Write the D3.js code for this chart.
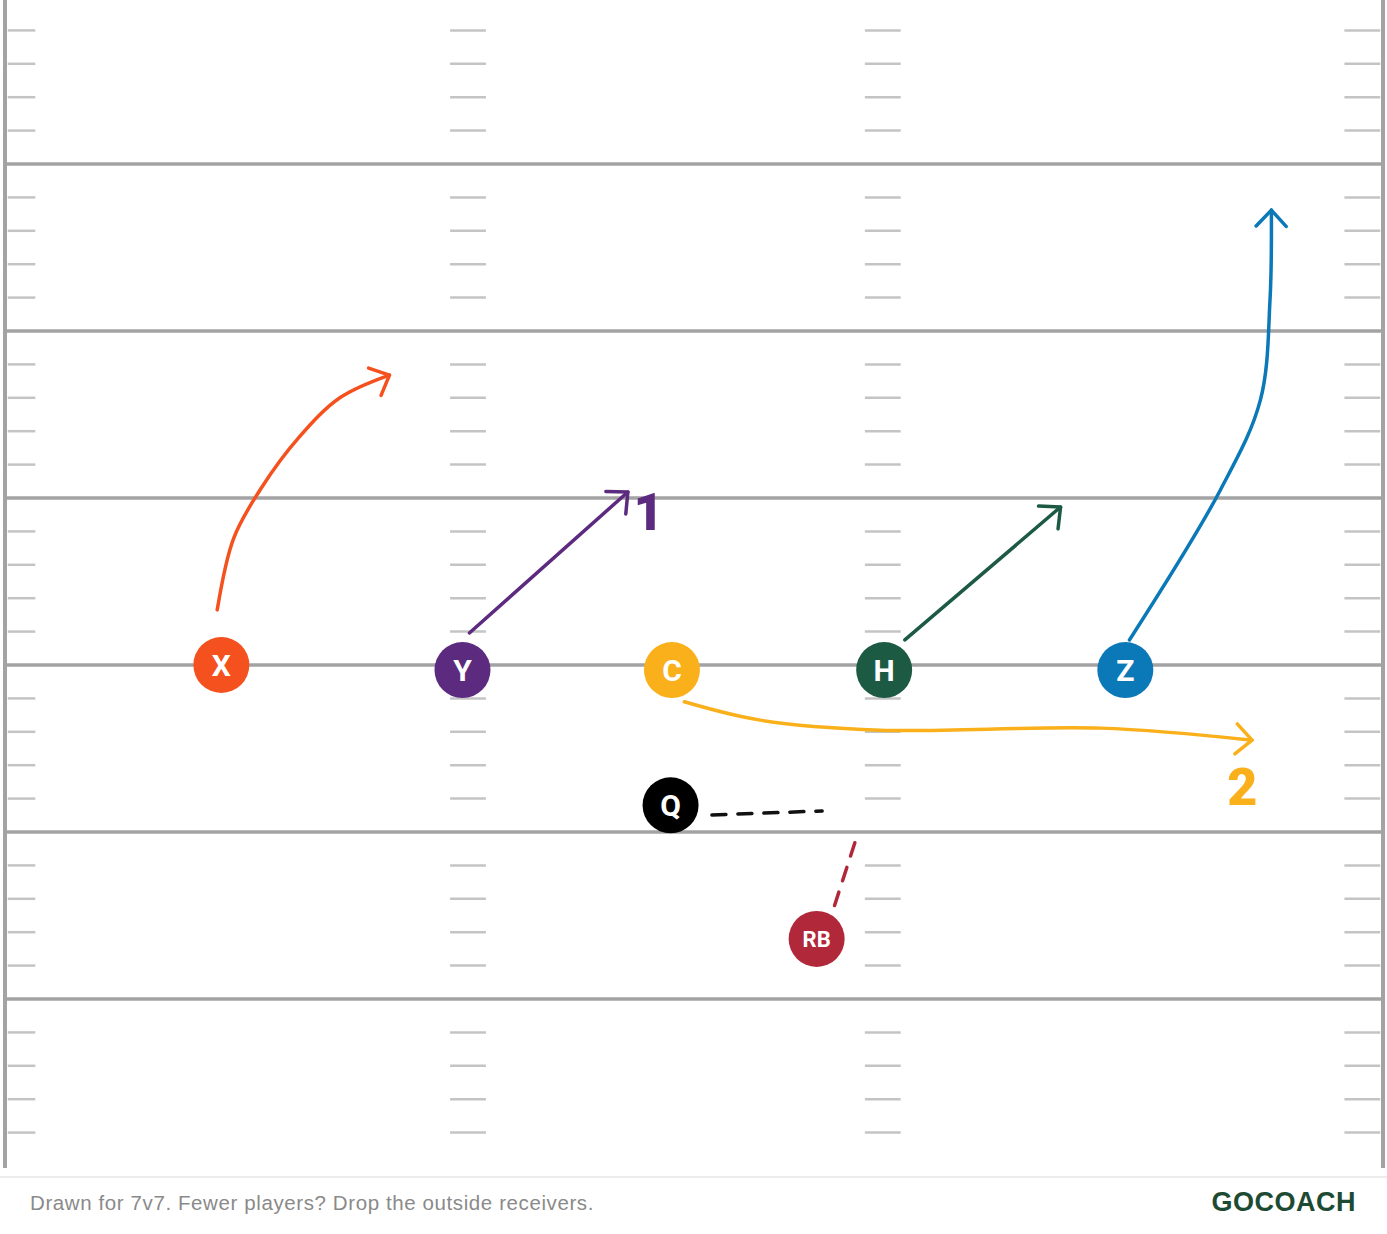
<!DOCTYPE html>
<html><head><meta charset="utf-8">
<script src="https://cdn.jsdelivr.net/npm/d3@7"></script>
<style>body{margin:0;background:#fff}svg{display:block}</style>
</head><body><svg id="c" width="1387" height="1234"></svg>
<script>
// x in % of field width, y in yards from top
const yardLines = [5,10,15,20,25,30];
const hashCols = [[0.2,2.2],[32.3,34.9],[62.4,65.0],[97.2,99.8]];
const players = [
  {id:"X", x:15.7, y:20.0, color:"#f4511e"},
  {id:"Y", x:33.2, y:20.15, color:"#5c2a7e"},
  {id:"C", x:48.4, y:20.15, color:"#f9b01b"},
  {id:"H", x:63.8, y:20.15, color:"#1c5a43"},
  {id:"Z", x:81.3, y:20.15, color:"#0b78b7"},
  {id:"Q", x:48.3, y:24.2, color:"#000000"},
  {id:"RB", x:58.9, y:28.2, color:"#b0283a"}
];
const routes = [
  {color:"#f4511e", curve:true, arrow:true, pts:[[15.4,18.35],[16.6,16.2],[18.6,14.7],[21.3,13.2],[24.3,12.0],[27.9,11.32]]},
  {color:"#5c2a7e", curve:false, arrow:true, pts:[[33.7,19.04],[45.2,14.82]]},
  {color:"#1c5a43", curve:false, arrow:true, pts:[[65.3,19.25],[76.6,15.27]]},
  {color:"#0b78b7", curve:true, arrow:true, pts:[[81.6,19.25],[88.2,14.76],[91.1,12.07],[91.8,9.07],[91.9,6.38]]},
  {color:"#f9b01b", curve:true, arrow:true, pts:[[49.3,21.1],[54.8,21.65],[63.5,21.95],[79.5,21.89],[90.5,22.25]]},
  {color:"#111111", curve:false, arrow:false, dash:true, pts:[[51.3,24.49],[59.3,24.37]]},
  {color:"#b0283a", curve:false, arrow:false, dash:true, pts:[[60.2,27.2],[61.9,25.03]]}
];
const labels = [
  {t:"1", x:46.7, y:15.95, color:"#5c2a7e"},
  {t:"2", x:89.8, y:24.2, color:"#f9b01b"}
];

const svg = d3.select("#c");
const x = d3.scaleLinear().domain([0,100]).range([5,1383]);
const y = d3.scaleLinear().domain([0,35]).range([-3,1166]);

const g = svg.append("g");
const ticks = d3.range(1,35).filter(d=>d%5!==0);
hashCols.forEach(c=>{
  g.selectAll(null).data(ticks).join("line")
    .attr("x1",x(c[0])).attr("x2",x(c[1]))
    .attr("y1",d=>y(d)).attr("y2",d=>y(d))
    .attr("stroke","#c4c4c4").attr("stroke-width",2.5);
});
g.selectAll(null).data(yardLines).join("line")
  .attr("x1",x(0)).attr("x2",x(100)).attr("y1",d=>y(d)).attr("y2",d=>y(d))
  .attr("stroke","#a3a3a3").attr("stroke-width",3.5);
[0,100].forEach(v=>g.append("line").attr("x1",x(v)).attr("x2",x(v)).attr("y1",0).attr("y2",y(35.06))
  .attr("stroke","#a3a3a3").attr("stroke-width",4));
svg.append("line").attr("x1",0).attr("x2",1387).attr("y1",1177).attr("y2",1177).attr("stroke","#e6e6e6").attr("stroke-width",1.5);

routes.forEach((r,i)=>{
  const line = d3.line().x(d=>x(d[0])).y(d=>y(d[1])).curve(r.curve?d3.curveCatmullRom:d3.curveLinear);
  const p = svg.append("path").attr("d",line(r.pts)).attr("fill","none")
    .attr("stroke",r.color).attr("stroke-width",3.5).attr("stroke-linecap","round");
  if(r.dash) p.attr("stroke-dasharray","14,12");
  if(r.arrow){
    const n=r.pts.length, a=r.pts[n-2], b=r.pts[n-1];
    const ex=x(b[0]), ey=y(b[1]);
    const ang=Math.atan2(ey-y(a[1]), ex-x(a[0]));
    const L=22, s=0.75;
    const pts=[[ex-L*Math.cos(ang-s),ey-L*Math.sin(ang-s)],[ex,ey],[ex-L*Math.cos(ang+s),ey-L*Math.sin(ang+s)]];
    svg.append("path").attr("d",d3.line()(pts)).attr("fill","none").attr("stroke",r.color)
      .attr("stroke-width",3.5).attr("stroke-linecap","round").attr("stroke-linejoin","round");
  }
});
labels.forEach(l=>svg.append("text").attr("x",x(l.x)).attr("y",y(l.y)).text(l.t)
  .attr("fill",l.color).attr("font-family","Roboto, sans-serif").attr("font-weight",900).attr("font-size",52)
  .attr("text-anchor","middle"));

const pg = svg.selectAll(".p").data(players).join("g").attr("transform",d=>`translate(${x(d.x)},${y(d.y)})`);
pg.append("circle").attr("r",28).attr("fill",d=>d.color);
pg.append("text").text(d=>d.id).attr("text-anchor","middle").attr("dy","0.36em")
  .attr("fill","#fff").attr("font-family","Roboto, sans-serif").attr("font-weight",700)
  .attr("font-size",d=>d.id.length>1?22:30);

svg.append("text").attr("x",30).attr("y",1210).text("Drawn for 7v7. Fewer players? Drop the outside receivers.")
  .attr("fill","#8a8a8a").attr("font-family","'Liberation Sans', Arial, sans-serif").attr("font-size",20.5).attr("letter-spacing",0.6);
svg.append("text").attr("x",1356).attr("y",1211).attr("text-anchor","end").text("GOCOACH")
  .attr("fill","#1d4a33").attr("font-family","'Liberation Sans', Arial, sans-serif").attr("font-weight",700).attr("font-size",27).attr("letter-spacing",0.5);
</script></body></html>
